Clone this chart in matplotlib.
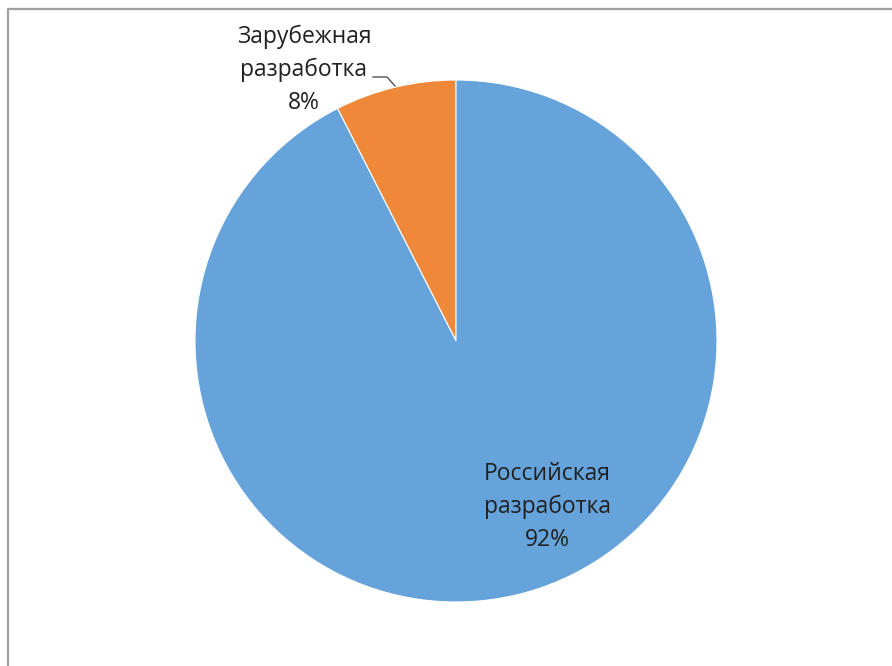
import matplotlib.pyplot as plt

# data
labels = ['Зарубежная\nразработка', 'Российская\nразработка']
shares = [7.5, 92.5]
colors = ['#f0883a', '#65a3da']

W, H = 892, 666
fig = plt.figure(figsize=(W / 100, H / 100), dpi=100)
ax = fig.add_axes([0, 0, 1, 1])

# chart frame (only left and top visible in the crop)
ax.plot([8, 8, W + 5], [-5, H - 9, H - 9], color='#a0a0a0', lw=1.6, solid_capstyle='butt')

cx, cy, r = 456, H - 341, 261
wedges, _ = ax.pie(shares, colors=colors, startangle=90, counterclock=True,
                   center=(cx, cy), radius=r, frame=True,
                   wedgeprops=dict(edgecolor='white', linewidth=0.8))
ax.set_xlim(0, W)
ax.set_ylim(0, H)
ax.set_aspect('equal')
ax.axis('off')

font = dict(family=['Open Sans', 'DejaVu Sans'], fontsize=16.5, color='#202020',
            ha='center', va='center', linespacing=1.5)
ax.text(304, H - 70, labels[0] + '\n' + '%.0f%%' % shares[0], **font)
ax.text(547, H - 507, labels[1] + '\n' + '%.0f%%' % shares[1], **font)

# leader line
ax.plot([373, 387, 395], [H - 77, H - 77, H - 86], color='#404040', lw=0.9)

fig.savefig('out.png', dpi=100)
